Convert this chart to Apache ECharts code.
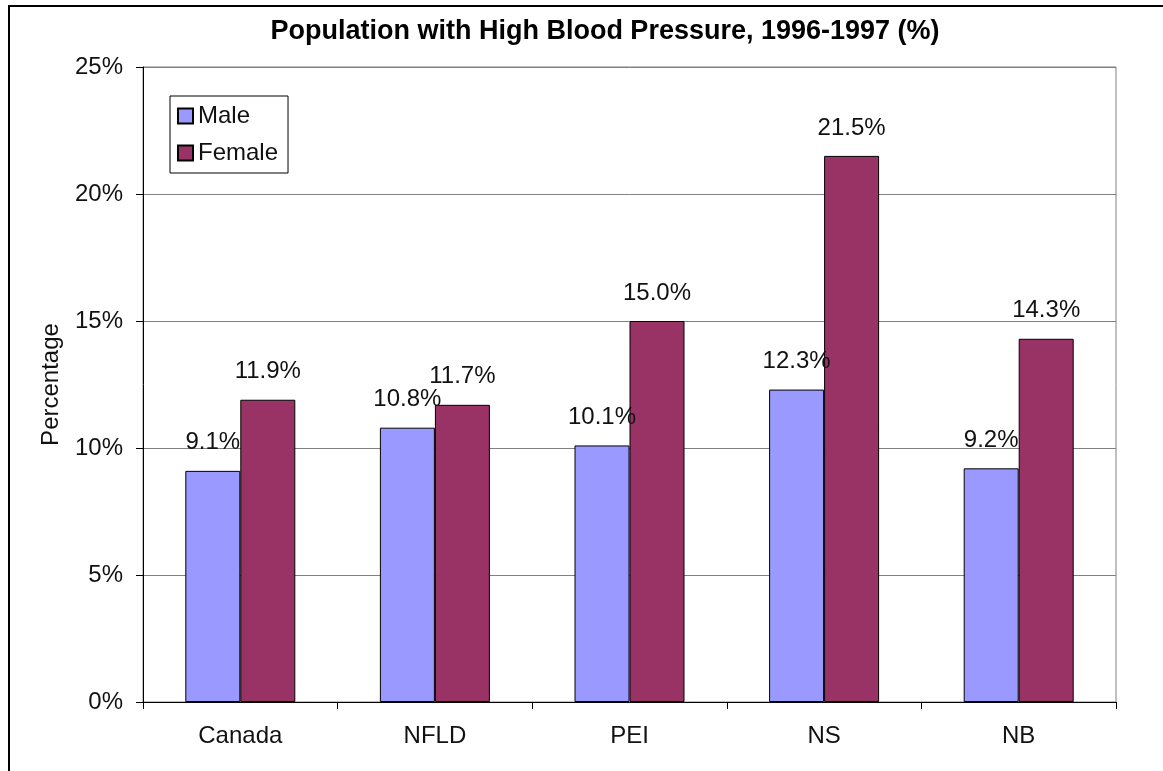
<!doctype html>
<html>
    <head>
        <meta charset="utf-8">
        <title>Population with High Blood Pressure</title>
        <style>
            html, body { margin: 0; padding: 0; background: #fff; }
            #main { width: 1163px; height: 771px; }
        </style>
    </head>
    <body>
        <div id="main"></div>
        <script src="https://cdn.jsdelivr.net/npm/echarts@6/dist/echarts.min.js"></script>
        <script>
            var regions = ['Canada', 'NFLD', 'PEI', 'NS', 'NB'];
            var male = [9.1, 10.8, 10.1, 12.3, 9.2];
            var female = [11.9, 11.7, 15.0, 21.5, 14.3];
            var yTicks = [0, 5, 10, 15, 20, 25];

            var font = 'Liberation Sans, Arial, sans-serif';
            var chart = echarts.init(document.getElementById('main'));

            function barSeries(name, data, color) {
                return {
                    name: name,
                    type: 'bar',
                    data: data,
                    barWidth: 55,
                    barGap: '0%',
                    itemStyle: {
                        color: color,
                        borderColor: '#000',
                        borderWidth: 1
                    },
                    label: {
                        show: true,
                        position: 'top',
                        distance: 16,
                        fontFamily: font,
                        fontSize: 24,
                        color: '#111',
                        formatter: function (p) {
                            return p.value.toFixed(1) + '%';
                        }
                    }
                };
            }

            chart.setOption({
                animation: false,
                backgroundColor: '#fff',
                textStyle: { fontFamily: font },
                title: {
                    text: 'Population with High Blood Pressure, 1996-1997 (%)',
                    left: 600,
                    top: 13,
                    textAlign: 'center',
                    textStyle: {
                        fontFamily: font,
                        fontSize: 27,
                        fontWeight: 'bold',
                        color: '#000'
                    }
                },
                legend: {
                    orient: 'vertical',
                    left: 170,
                    top: 96,
                    padding: [8, 10, 8, 7],
                    itemGap: 13,
                    itemWidth: 15,
                    itemHeight: 15,
                    icon: 'rect',
                    borderColor: '#000',
                    borderWidth: 1,
                    backgroundColor: '#fff',
                    textStyle: { fontFamily: font, fontSize: 24, color: '#111', padding: [0, 0, 0, 0] },
                    data: ['Male', 'Female']
                },
                graphic: [{
                    type: 'rect',
                    shape: { x: 9, y: 6, width: 1300, height: 900 },
                    style: { fill: null, stroke: '#000', lineWidth: 2 },
                    silent: true
                }],
                grid: {
                    left: 143,
                    right: 47,
                    top: 67,
                    bottom: 69,
                    show: true,
                    borderColor: '#808080',
                    borderWidth: 1
                },
                xAxis: {
                    type: 'category',
                    data: regions,
                    axisLine: { lineStyle: { color: '#000', width: 1 } },
                    axisTick: { show: true, length: 7, alignWithLabel: false, lineStyle: { color: '#000' } },
                    axisLabel: { margin: 22, fontFamily: font, fontSize: 24, color: '#111' }
                },
                yAxis: {
                    type: 'value',
                    min: yTicks[0],
                    max: yTicks[yTicks.length - 1],
                    interval: yTicks[1] - yTicks[0],
                    name: 'Percentage',
                    nameLocation: 'middle',
                    nameGap: 80,
                    nameTextStyle: { fontFamily: font, fontSize: 24, color: '#111' },
                    axisLine: { show: true, lineStyle: { color: '#000', width: 1 } },
                    axisTick: { show: true, length: 7, lineStyle: { color: '#000' } },
                    axisLabel: {
                        margin: 20,
                        fontFamily: font,
                        fontSize: 24,
                        color: '#111',
                        formatter: '{value}%'
                    },
                    splitLine: { lineStyle: { color: '#808080', width: 1 } }
                },
                series: [
                    barSeries('Male', male, '#9999FF'),
                    barSeries('Female', female, '#993366')
                ]
            });

            window.onresize = chart.resize;
        </script>
    </body>
</html>
